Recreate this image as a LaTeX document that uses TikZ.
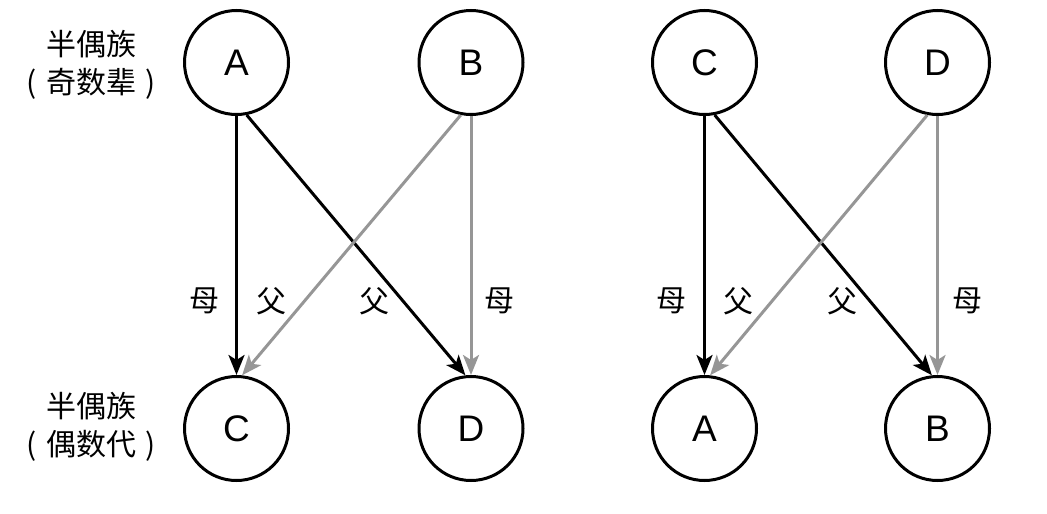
\documentclass[tikz,border=0pt]{standalone}
\usepackage{fontspec}
\setmainfont{Liberation Sans}
\newfontfamily\cjk{Noto Sans CJK SC}
\usetikzlibrary{arrows.meta}
\definecolor{linegray}{RGB}{150,150,150}
\begin{document}
\begin{tikzpicture}[x=1pt,y=-1pt,
  person/.style={circle, draw, line width=3pt, minimum size=104pt, inner sep=0pt,
    font=\fontsize{37}{40}\selectfont},
  sidelabel/.style={align=center, inner sep=0pt, font=\cjk\fontsize{30}{38}\selectfont},
  edgelabel/.style={inner sep=0pt, font=\cjk\fontsize{30}{30}\selectfont},
  link/.style={line width=3pt, -{Stealth[length=20pt,width=16pt,inset=5pt]}},
  blacklink/.style={link, draw=black},
  graylink/.style={link, draw=linegray}
]
\useasboundingbox (0,0) rectangle (1047,514);
% left group
\node[person] (tA) at (236.5,62.5) {A};
\node[person] (tB) at (471,62.5) {B};
\node[person] (bC) at (236.5,428.5) {C};
\node[person] (bD) at (471,428.5) {D};
% right group
\node[person] (tC) at (704.5,62.5) {C};
\node[person] (tD) at (937.5,62.5) {D};
\node[person] (bA) at (704.5,428.5) {A};
\node[person] (bB) at (937.5,428.5) {B};
% side labels
\node[sidelabel] (lt) at (91,65) {半偶族\\(\hspace{0.3em}奇数辈\hspace{0.3em})};
\node[sidelabel] (lb) at (91,427) {半偶族\\(\hspace{0.3em}偶数代\hspace{0.3em})};
% connectors left
\draw[blacklink] (tA) -- (bC);
\draw[blacklink] (tA.-79) -- (bD.96);
\draw[graylink] (tB.-101) -- (bC.84);
\draw[graylink] (tB) -- (bD);
% connectors right
\draw[blacklink] (tC) -- (bA);
\draw[blacklink] (tC.-79) -- (bB.96);
\draw[graylink] (tD.-101) -- (bA.84);
\draw[graylink] (tD) -- (bB);
% edge labels
\node[edgelabel] (m1) at (204,301) {母};
\node[edgelabel] (f1) at (271,301) {父};
\node[edgelabel] (f2) at (374,301) {父};
\node[edgelabel] (m2) at (499,301) {母};
\node[edgelabel] (m3) at (671,301) {母};
\node[edgelabel] (f3) at (738,301) {父};
\node[edgelabel] (f4) at (842,301) {父};
\node[edgelabel] (m4) at (967,301) {母};
\end{tikzpicture}
\end{document}
